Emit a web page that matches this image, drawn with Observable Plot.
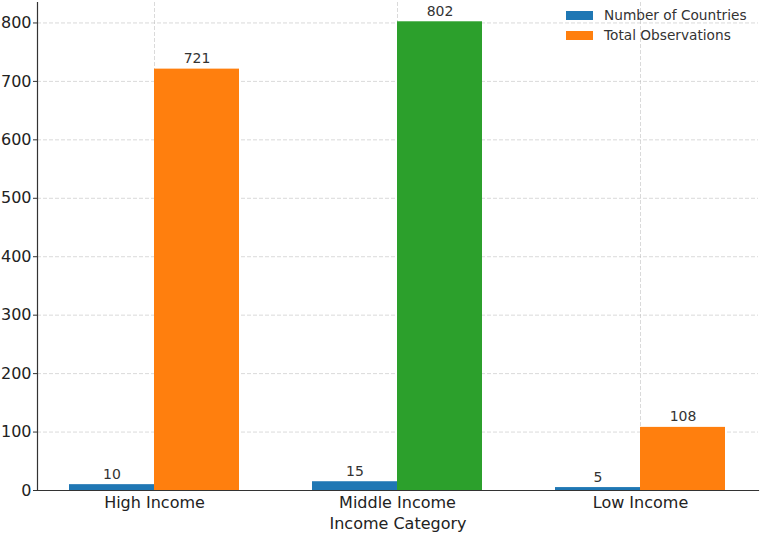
<!DOCTYPE html>
<html><head><meta charset="utf-8">
<script src="https://cdn.jsdelivr.net/npm/d3@7"></script>
<script src="https://cdn.jsdelivr.net/npm/@observablehq/plot@0.6"></script>
<style>
body{margin:0;background:#fff;font-family:"DejaVu Sans",sans-serif;}
#wrap{position:relative;width:762px;height:535px;}
#legend{position:absolute;left:566px;top:5px;font-size:13.7px;color:#333;line-height:20px;}
#legend .row{display:flex;align-items:center;}
#legend .sw{width:27px;height:9px;margin-right:11px;}
</style></head>
<body><div id="wrap"><div id="legend"></div></div>
<script>
const categories = ["High Income", "Middle Income", "Low Income"];
const countries = [10, 15, 5];
const observations = [721, 802, 108];
const seriesNames = ["Number of Countries", "Total Observations"];
const yTicks = [0, 100, 200, 300, 400, 500, 600, 700, 800];

const BLUE = "#1f77b4", ORANGE = "#ff7f0e", GREEN = "#2ca02c";
const maxObs = d3.max(observations);
const rows = categories.map((c, i) => ({category: c, countries: countries[i], observations: observations[i]}));
const half = 85;
const grid = {stroke: "#b0b0b0", strokeOpacity: 0.6, strokeDasharray: "4,2", strokeWidth: 0.8};

const chart = Plot.plot({
  width: 762, height: 535,
  marginLeft: 37, marginRight: 4, marginTop: 2, marginBottom: 45,
  style: {fontFamily: "DejaVu Sans, sans-serif", fontSize: "16px", color: "#222", background: "#fff"},
  x: {domain: categories, paddingInner: 0.3, paddingOuter: 0.1335},
  y: {domain: [0, 835]},
  marks: [
    Plot.gridY(yTicks, grid),
    Plot.gridX(categories, grid),
    Plot.barY(rows, {x: "category", y: "countries", fill: BLUE, insetRight: half, insetLeft: 0}),
    Plot.barY(rows, {x: "category", y: "observations", insetLeft: half, insetRight: 0,
      fill: d => d.observations === maxObs ? GREEN : ORANGE}),
    Plot.text(rows, {x: "category", y: "countries", text: d => String(d.countries), dx: -half/2, dy: -6, lineAnchor: "bottom", fontSize: 14, fill: "#333"}),
    Plot.text(rows, {x: "category", y: "observations", text: d => String(d.observations), dx: half/2, dy: -6, lineAnchor: "bottom", fontSize: 14, fill: "#333"}),
    Plot.axisY(yTicks, {tickSize: 4, tickPadding: 2, label: null, fontSize: 16, stroke: "#333"}),
    Plot.axisX({tickSize: 0, tickPadding: 6, label: "Income Category", labelAnchor: "center", labelOffset: 38, labelArrow: "none", fontSize: 16}),
    Plot.frame({anchor: "left", stroke: "#333", strokeWidth: 1.2}),
    Plot.frame({anchor: "bottom", stroke: "#333", strokeWidth: 1.2})
  ]
});
const wrap = document.getElementById("wrap");
wrap.insertBefore(chart, wrap.firstChild);
const lg = document.getElementById("legend");
[BLUE, ORANGE].forEach((c, i) => {
  const r = document.createElement("div"); r.className = "row";
  const s = document.createElement("span"); s.className = "sw"; s.style.background = c;
  const t = document.createElement("span"); t.textContent = seriesNames[i];
  r.appendChild(s); r.appendChild(t); lg.appendChild(r);
});
</script></body></html>
